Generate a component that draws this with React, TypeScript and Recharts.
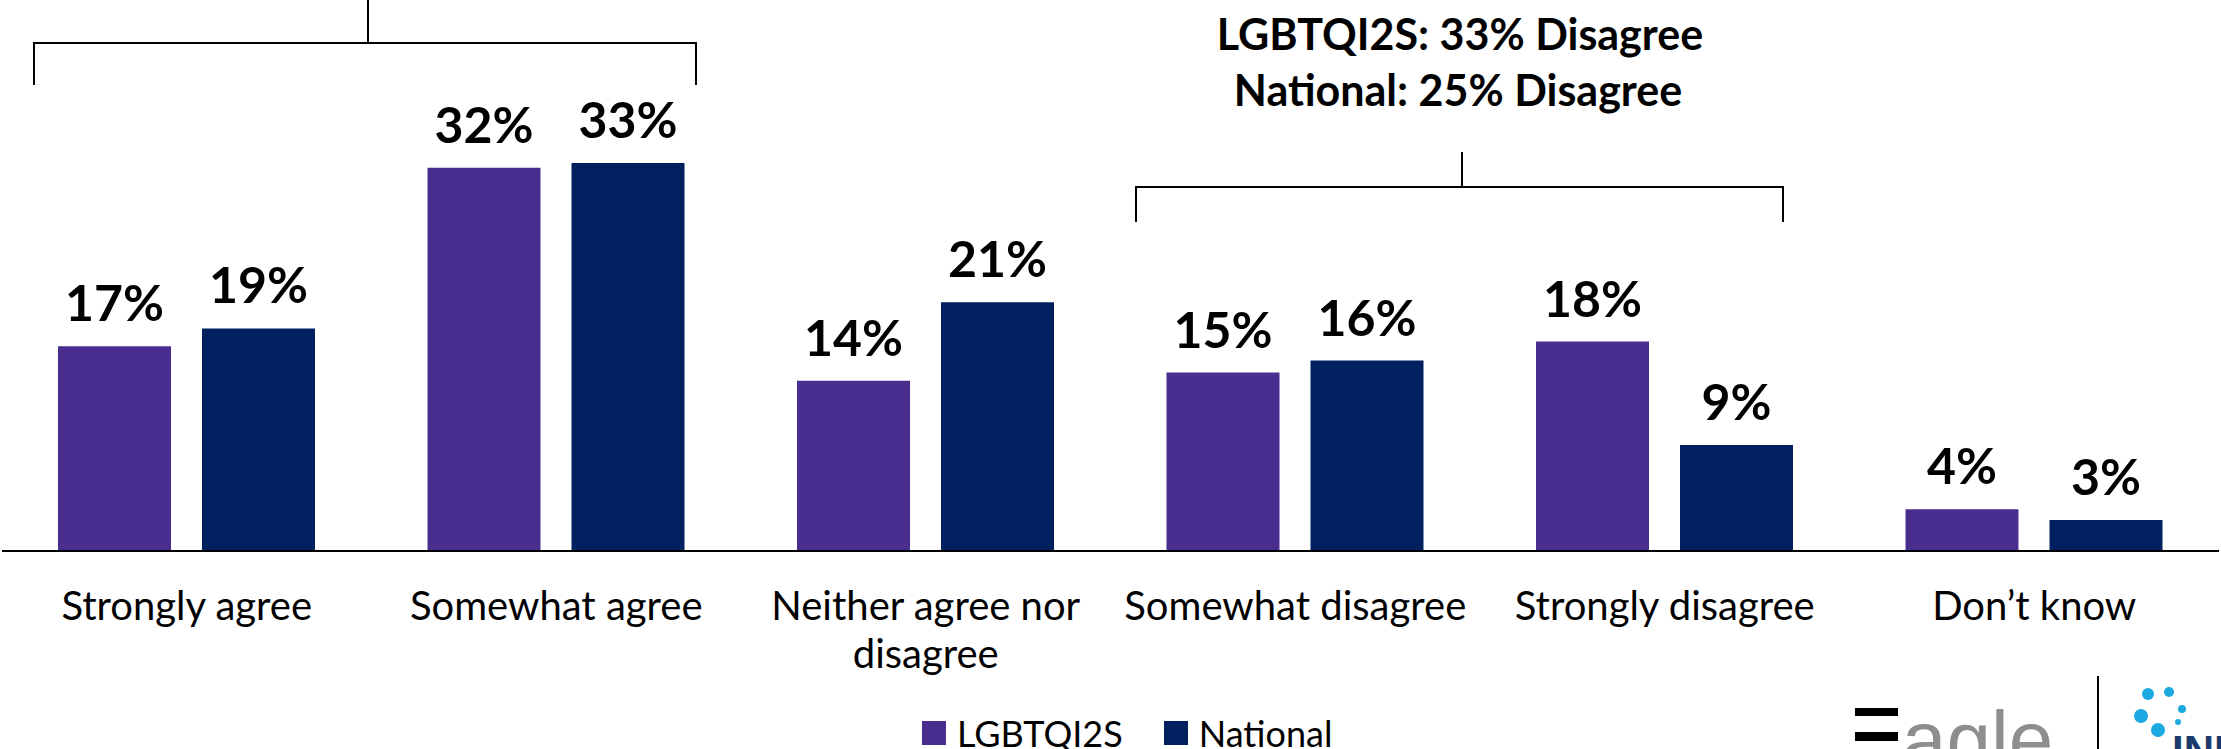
import { Bar, BarChart, LabelList, Legend, XAxis, YAxis } from "recharts";

const categories = [
  "Strongly agree",
  "Somewhat agree",
  "Neither agree nor disagree",
  "Somewhat disagree",
  "Strongly disagree",
  "Don’t know",
];
const lgbtqValues = [17.2, 32.2, 14.3, 15.0, 17.6, 3.5];
const nationalValues = [18.7, 32.6, 20.9, 16.0, 8.9, 2.6];
const seriesNames = ["LGBTQI2S", "National"];
const disagreeNote = ["LGBTQI2S: 33% Disagree", "National: 25% Disagree"];

const PURPLE = "#4A2E8F";
const NAVY = "#01205F";
const FONT = "Lato, 'Liberation Sans', sans-serif";
const W = 2221;
const H = 749;

const data = categories.map((name, i) => ({
  name,
  lgbtq: lgbtqValues[i],
  national: nationalValues[i],
}));

const pct = (v: any) => `${Math.round(Number(v))}%`;

// greedy wrap, long labels go on two lines like the original
function wrapLabel(s: string, max = 18) {
  const lines: string[] = [];
  let cur = "";
  for (const w of s.split(" ")) {
    const next = cur ? cur + " " + w : w;
    if (next.length > max && cur) {
      lines.push(cur);
      cur = w;
    } else cur = next;
  }
  if (cur) lines.push(cur);
  return lines;
}

function CategoryTick({ x, y, payload }: any) {
  const lines = wrapLabel(String(payload.value));
  return (
    <text x={x} y={y + 69} textAnchor="middle" fontSize={40} fontFamily={FONT} fill="#000">
      {lines.map((l, i) => (
        <tspan key={i} x={x} dy={i ? 48 : 0}>
          {l}
        </tspan>
      ))}
    </text>
  );
}

function LegendRow({ payload }: any) {
  return (
    <div style={{ display: "flex", alignItems: "center", fontFamily: FONT, fontSize: 36, color: "#000" }}>
      {(payload ?? []).map((p: any, i: number) => (
        <div key={p.value} style={{ display: "flex", alignItems: "center", marginLeft: i ? 41 : 0 }}>
          <span style={{ width: 24, height: 24, background: p.color, display: "inline-block" }} />
          <span style={{ marginLeft: 11, lineHeight: "36px" }}>{p.value}</span>
        </div>
      ))}
    </div>
  );
}

// brackets, note text and the partly cropped logo in the corner
function Overlay() {
  const line = { stroke: "#000", strokeWidth: 2, fill: "none" };
  return (
    <svg
      width={W}
      height={H}
      style={{ position: "absolute", left: 0, top: 0, pointerEvents: "none" }}
    >
      <path d="M368 0 V43 M34 85 V43 H696 V85" {...line} />
      <path d="M1462 152 V187 M1136 222 V187 H1783 V222" {...line} />
      <text
        x={1460}
        textAnchor="middle"
        fontFamily={FONT}
        fontWeight={700}
        fontSize={43}
        fill="#000"
      >
        <tspan x={1460} y={50}>{disagreeNote[0]}</tspan>
        <tspan x={1458} y={106}>{disagreeNote[1]}</tspan>
      </text>
      <rect x={1855} y={708} width={43} height={8} fill="#000" />
      <rect x={1855} y={732} width={43} height={9} fill="#000" />
      <text x={1902} y={767} fontFamily="'Liberation Sans', sans-serif" fontSize={80} fill="#8C8E90">
        agle
      </text>
      <line x1={2098} y1={676} x2={2098} y2={749} stroke="#000" strokeWidth={2} />
      <g fill="#1BA9E1">
        <circle cx={2148} cy={694} r={6} />
        <circle cx={2169} cy={692} r={5} />
        <circle cx={2182} cy={709} r={4} />
        <circle cx={2141} cy={716} r={7} />
        <circle cx={2178} cy={722} r={3} />
        <circle cx={2158} cy={730} r={7} />
      </g>
      <text x={2172} y={765} fontFamily="'Liberation Sans', sans-serif" fontWeight={700} fontSize={42} fill="#1A3A6B">
        INNOVATIVE
      </text>
    </svg>
  );
}

export default function App() {
  return (
    <div style={{ position: "relative", width: W, height: H, background: "#fff" }}>
      <style>{"body{margin:0}"}</style>
      <BarChart
        width={W}
        height={H}
        data={data}
        margin={{ top: 75, right: 2, bottom: 0, left: 2 }}
        barGap={31}
        barSize={113}
      >
        <XAxis
          dataKey="name"
          height={198}
          tickLine={false}
          tickSize={0}
          tickMargin={0}
          interval={0}
          axisLine={{ stroke: "#000", strokeWidth: 2 }}
          tick={<CategoryTick />}
        />
        <YAxis hide domain={[0, 40]} />
        <Legend
          verticalAlign="middle"
          align="center"
          layout="horizontal"
          wrapperStyle={{ top: 715, left: 922, width: "auto" }}
          content={<LegendRow />}
        />
        <Bar dataKey="lgbtq" name={seriesNames[0]} fill={PURPLE} isAnimationActive={false}>
          <LabelList
            dataKey="lgbtq"
            position="top"
            offset={25}
            formatter={pct}
            fill="#000"
            fontSize={50}
            fontWeight={700}
            fontFamily={FONT}
          />
        </Bar>
        <Bar dataKey="national" name={seriesNames[1]} fill={NAVY} isAnimationActive={false}>
          <LabelList
            dataKey="national"
            position="top"
            offset={25}
            formatter={pct}
            fill="#000"
            fontSize={50}
            fontWeight={700}
            fontFamily={FONT}
          />
        </Bar>
      </BarChart>
      <Overlay />
    </div>
  );
}
